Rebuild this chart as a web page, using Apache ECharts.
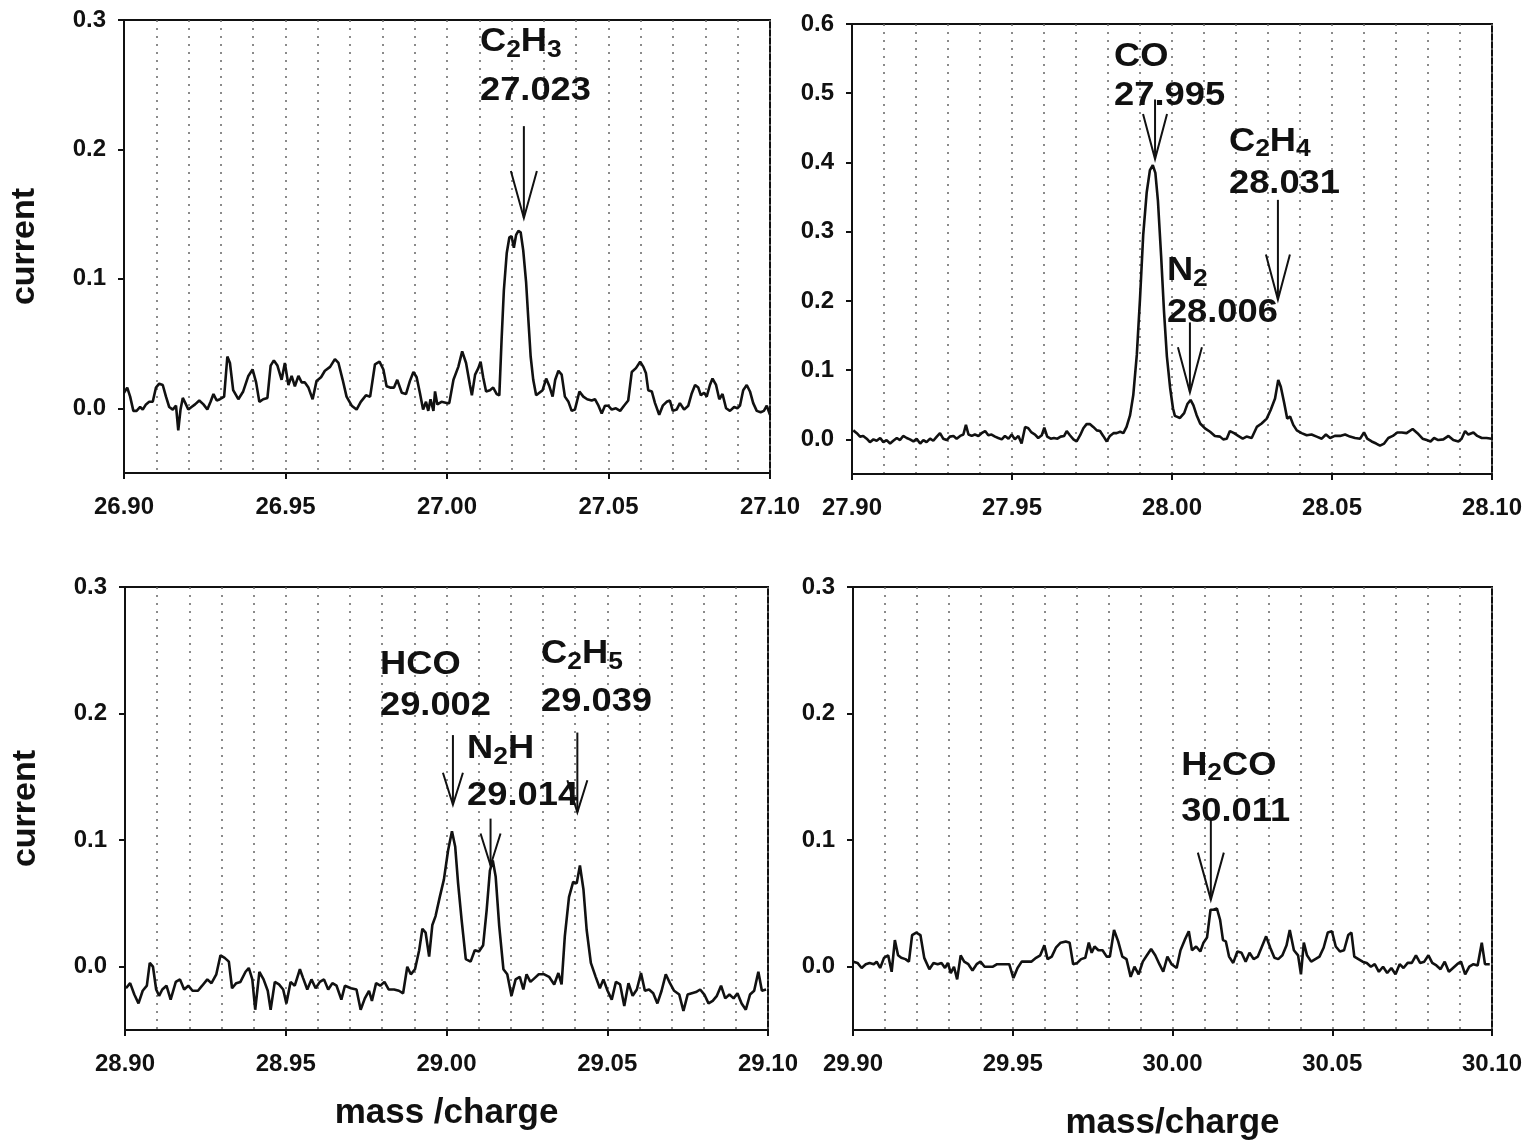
<!DOCTYPE html>
<html>
<head>
<meta charset="utf-8">
<script src="https://cdn.jsdelivr.net/npm/echarts@6/dist/echarts.min.js"></script>
<style>
html,body{margin:0;padding:0;background:#fff;}
#chart{width:1529px;height:1147px;}
</style>
</head>
<body>
<div id="chart"></div>
<script>
// ---------------- DATA ----------------
// x ranges of the four panels (mass/charge)
const rangeP1 = [26.90, 27.10];
const rangeP2 = [27.90, 28.10];
const rangeP3 = [28.90, 29.10];
const rangeP4 = [29.90, 30.10];

// y tick labels
const yTicksSmall = [0, 0.1, 0.2, 0.3];
const yTicksLarge = [0, 0.1, 0.2, 0.3, 0.4, 0.5, 0.6];

// measured traces: [mass/charge, current]
const scanP1 = [
[26.9000,0.012],[26.9010,0.016],[26.9019,0.009],[26.9029,-0.002],[26.9039,-0.002],[26.9050,0.001],[26.9058,-0.001],[26.9068,0.003],[26.9078,0.005],[26.9089,0.005],
[26.9099,0.016],[26.9109,0.019],[26.9120,0.018],[26.9130,0.009],[26.9140,0.001],[26.9151,-0.001],[26.9161,0.002],[26.9168,-0.017],[26.9175,-0.001],[26.9182,0.008],
[26.9190,0.004],[26.9199,-0.001],[26.9209,0.001],[26.9220,0.003],[26.9233,0.006],[26.9246,0.003],[26.9258,-0.001],[26.9268,0.005],[26.9277,0.011],[26.9287,0.006],
[26.9297,0.007],[26.9310,0.009],[26.9320,0.040],[26.9328,0.035],[26.9338,0.014],[26.9354,0.007],[26.9369,0.013],[26.9385,0.025],[26.9398,0.030],[26.9409,0.020],
[26.9419,0.005],[26.9431,0.007],[26.9444,0.008],[26.9454,0.033],[26.9464,0.037],[26.9475,0.033],[26.9488,0.022],[26.9498,0.035],[26.9509,0.018],[26.9519,0.025],
[26.9529,0.017],[26.9540,0.025],[26.9550,0.020],[26.9560,0.020],[26.9571,0.016],[26.9584,0.007],[26.9596,0.021],[26.9610,0.024],[26.9622,0.029],[26.9638,0.032],
[26.9653,0.038],[26.9664,0.035],[26.9677,0.022],[26.9689,0.009],[26.9705,0.002],[26.9720,-0.001],[26.9733,0.005],[26.9749,0.010],[26.9762,0.009],[26.9777,0.034],
[26.9791,0.036],[26.9803,0.030],[26.9813,0.017],[26.9824,0.016],[26.9836,0.016],[26.9846,0.022],[26.9860,0.012],[26.9873,0.011],[26.9885,0.021],[26.9896,0.028],
[26.9906,0.024],[26.9916,0.012],[26.9926,-0.001],[26.9935,0.005],[26.9942,-0.002],[26.9949,0.007],[26.9958,-0.002],[26.9963,0.013],[26.9970,0.003],[26.9983,0.005],
[26.9999,0.004],
[27.0007,0.004],[27.0020,0.022],[27.0035,0.032],[27.0047,0.044],[27.0059,0.035],[27.0071,0.018],[27.0077,0.010],[27.0087,0.026],[27.0097,0.031],[27.0104,0.036],
[27.0112,0.024],[27.0121,0.013],[27.0133,0.014],[27.0143,0.016],[27.0154,0.011],[27.0162,0.010],[27.0169,0.053],[27.0176,0.091],[27.0185,0.120],[27.0193,0.132],
[27.0200,0.133],[27.0207,0.124],[27.0214,0.134],[27.0221,0.137],[27.0228,0.136],[27.0236,0.122],[27.0245,0.097],[27.0252,0.068],[27.0259,0.040],[27.0267,0.022],
[27.0276,0.010],[27.0286,0.012],[27.0296,0.014],[27.0307,0.023],[27.0317,0.017],[27.0327,0.009],[27.0335,0.022],[27.0345,0.029],[27.0355,0.026],[27.0365,0.009],
[27.0376,0.005],[27.0386,-0.002],[27.0396,-0.001],[27.0410,0.013],[27.0422,0.009],[27.0434,0.007],[27.0448,0.006],[27.0458,0.007],[27.0469,0.002],[27.0479,-0.004],
[27.0489,0.002],[27.0499,0.002],[27.0510,-0.001],[27.0523,0.000],[27.0536,-0.002],[27.0548,0.002],[27.0561,0.006],[27.0572,0.028],[27.0585,0.031],[27.0598,0.036],
[27.0608,0.032],[27.0616,0.027],[27.0623,0.014],[27.0634,0.013],[27.0644,0.004],[27.0657,-0.005],[27.0668,0.002],[27.0680,0.005],[27.0690,0.006],[27.0699,-0.002],
[27.0711,-0.001],[27.0721,0.004],[27.0734,-0.001],[27.0747,0.002],[27.0757,0.011],[27.0768,0.018],[27.0778,0.016],[27.0786,0.010],[27.0796,0.012],[27.0804,0.009],
[27.0814,0.018],[27.0822,0.023],[27.0833,0.018],[27.0843,0.007],[27.0853,0.011],[27.0864,0.000],[27.0876,-0.002],[27.0889,0.001],[27.0899,0.000],[27.0907,0.002],
[27.0917,0.014],[27.0928,0.018],[27.0938,0.013],[27.0948,0.004],[27.0959,-0.002],[27.0971,-0.003],[27.0981,-0.002],[27.0990,0.002],[27.1000,-0.005]
];

const scanP2 = [
[27.9004,0.013],[27.9015,0.009],[27.9025,0.004],[27.9035,0.005],[27.9046,0.001],[27.9056,-0.004],[27.9067,0.000],[27.9077,-0.002],[27.9088,0.002],[27.9098,-0.004],
[27.9108,-0.001],[27.9119,-0.006],[27.9129,-0.002],[27.9140,0.002],[27.9150,-0.001],[27.9160,0.005],[27.9171,0.002],[27.9181,0.000],[27.9192,-0.003],[27.9202,0.001],
[27.9213,-0.006],[27.9223,-0.001],[27.9233,-0.004],[27.9244,0.001],[27.9254,-0.002],[27.9265,0.004],[27.9275,0.009],[27.9285,0.001],[27.9296,-0.001],[27.9306,0.004],
[27.9317,0.005],[27.9327,0.001],[27.9338,0.005],[27.9348,0.007],[27.9356,0.021],[27.9364,0.007],[27.9374,0.005],[27.9384,0.007],[27.9395,0.005],[27.9405,0.009],
[27.9416,0.012],[27.9426,0.006],[27.9436,0.007],[27.9447,0.004],[27.9457,0.002],[27.9468,0.000],[27.9478,0.005],[27.9489,0.001],[27.9499,0.007],[27.9509,0.000],
[27.9520,0.005],[27.9530,-0.006],[27.9541,0.018],[27.9551,0.016],[27.9561,0.010],[27.9572,0.007],[27.9582,0.002],[27.9593,0.006],[27.9601,0.017],[27.9610,0.004],
[27.9621,0.001],[27.9631,0.002],[27.9642,0.001],[27.9652,0.004],[27.9663,0.005],[27.9671,0.012],[27.9681,0.006],[27.9692,0.000],[27.9702,-0.003],[27.9713,0.006],
[27.9723,0.016],[27.9733,0.022],[27.9744,0.022],[27.9754,0.018],[27.9765,0.013],[27.9775,0.012],[27.9785,0.005],[27.9796,-0.003],[27.9806,0.005],[27.9817,0.009],
[27.9827,0.009],[27.9838,0.011],[27.9848,0.009],[27.9858,0.018],[27.9869,0.035],[27.9879,0.064],[27.9890,0.122],[27.9900,0.203],[27.9910,0.295],[27.9921,0.357],
[27.9931,0.389],[27.9940,0.396],[27.9948,0.385],[27.9956,0.345],[27.9966,0.265],[27.9975,0.185],[27.9984,0.120],[27.9994,0.075],[28.0003,0.045],
[28.0009,0.034],[28.0025,0.031],[28.0038,0.038],[28.0048,0.051],[28.0058,0.057],[28.0067,0.049],[28.0077,0.035],[28.0088,0.023],[28.0103,0.016],[28.0119,0.011],
[28.0134,0.005],[28.0150,0.004],[28.0160,0.000],[28.0171,0.001],[28.0181,0.012],[28.0194,0.009],[28.0207,0.005],[28.0221,0.001],[28.0233,0.004],[28.0249,0.002],
[28.0265,0.018],[28.0280,0.023],[28.0296,0.030],[28.0308,0.042],[28.0322,0.059],[28.0332,0.086],[28.0340,0.076],[28.0350,0.054],[28.0360,0.030],[28.0369,0.033],
[28.0379,0.021],[28.0390,0.013],[28.0405,0.009],[28.0421,0.006],[28.0436,0.007],[28.0452,0.004],[28.0468,0.001],[28.0481,0.007],[28.0494,0.002],[28.0509,0.005],
[28.0525,0.005],[28.0541,0.007],[28.0556,0.004],[28.0572,0.002],[28.0588,0.001],[28.0600,0.010],[28.0610,0.001],[28.0624,-0.003],[28.0638,-0.006],[28.0650,-0.009],
[28.0663,-0.006],[28.0676,0.002],[28.0690,0.005],[28.0704,0.010],[28.0718,0.010],[28.0733,0.009],[28.0752,0.015],[28.0767,0.009],[28.0783,0.001],[28.0796,-0.001],
[28.0808,-0.003],[28.0819,0.002],[28.0832,-0.001],[28.0848,0.000],[28.0864,0.005],[28.0879,-0.001],[28.0895,-0.003],[28.0905,0.001],[28.0916,0.012],[28.0926,0.007],
[28.0942,0.010],[28.0954,0.005],[28.0968,0.002],[28.0983,0.002],[28.0999,0.001]
];

const scanP3 = [
[28.9003,-0.017],[28.9016,-0.013],[28.9029,-0.022],[28.9042,-0.029],[28.9055,-0.019],[28.9068,-0.015],[28.9077,0.003],[28.9087,0.000],[28.9097,-0.018],[28.9106,-0.023],
[28.9116,-0.018],[28.9129,-0.015],[28.9142,-0.026],[28.9158,-0.012],[28.9171,-0.010],[28.9184,-0.018],[28.9197,-0.015],[28.9210,-0.019],[28.9227,-0.019],[28.9240,-0.015],
[28.9256,-0.010],[28.9269,-0.013],[28.9284,-0.006],[28.9297,0.009],[28.9310,0.007],[28.9323,0.004],[28.9333,-0.017],[28.9346,-0.013],[28.9359,-0.012],[28.9375,-0.004],
[28.9385,-0.001],[28.9396,-0.010],[28.9405,-0.034],[28.9418,-0.004],[28.9431,-0.010],[28.9444,-0.019],[28.9453,-0.034],[28.9466,-0.012],[28.9479,-0.014],[28.9492,-0.018],
[28.9502,-0.029],[28.9515,-0.012],[28.9528,-0.015],[28.9544,-0.002],[28.9554,-0.009],[28.9567,-0.018],[28.9580,-0.010],[28.9593,-0.017],[28.9606,-0.012],[28.9619,-0.010],
[28.9632,-0.018],[28.9645,-0.013],[28.9658,-0.015],[28.9673,-0.026],[28.9684,-0.015],[28.9703,-0.017],[28.9720,-0.018],[28.9733,-0.034],[28.9746,-0.025],[28.9759,-0.019],
[28.9768,-0.027],[28.9781,-0.013],[28.9794,-0.015],[28.9807,-0.012],[28.9820,-0.018],[28.9837,-0.018],[28.9852,-0.019],[28.9865,-0.021],[28.9878,0.000],[28.9889,-0.006],
[28.9902,-0.002],[28.9915,0.013],[28.9925,0.030],[28.9935,0.027],[28.9946,0.008],[28.9956,0.033],[28.9966,0.040],[28.9979,0.055],[28.9992,0.069],[29.0005,0.092],
[29.0017,0.107],[29.0027,0.095],[29.0036,0.066],[29.0047,0.037],[29.0060,0.006],[29.0075,0.004],[29.0088,0.013],[29.0101,0.012],[29.0114,0.017],[29.0125,0.045],
[29.0135,0.076],[29.0144,0.084],[29.0153,0.071],[29.0164,0.032],[29.0177,-0.002],[29.0189,-0.006],[29.0202,-0.023],[29.0215,-0.010],[29.0228,-0.008],[29.0239,-0.018],
[29.0249,-0.006],[29.0261,-0.012],[29.0274,-0.009],[29.0287,-0.006],[29.0304,-0.006],[29.0319,-0.008],[29.0335,-0.014],[29.0348,-0.005],[29.0358,-0.014],[29.0368,0.024],
[29.0381,0.055],[29.0394,0.067],[29.0405,0.066],[29.0415,0.080],[29.0426,0.061],[29.0436,0.029],[29.0449,0.003],[29.0464,-0.008],[29.0477,-0.017],[29.0488,-0.010],
[29.0501,-0.019],[29.0514,-0.026],[29.0527,-0.012],[29.0540,-0.014],[29.0553,-0.031],[29.0566,-0.013],[29.0579,-0.023],[29.0592,-0.018],[29.0605,-0.005],[29.0617,-0.019],
[29.0630,-0.018],[29.0643,-0.021],[29.0656,-0.029],[29.0669,-0.019],[29.0682,-0.006],[29.0695,-0.013],[29.0708,-0.019],[29.0724,-0.022],[29.0737,-0.035],[29.0750,-0.022],
[29.0763,-0.021],[29.0776,-0.020],[29.0789,-0.018],[29.0802,-0.022],[29.0815,-0.029],[29.0828,-0.027],[29.0841,-0.023],[29.0854,-0.015],[29.0867,-0.025],[29.0880,-0.022],
[29.0893,-0.025],[29.0905,-0.021],[29.0918,-0.029],[29.0931,-0.034],[29.0944,-0.022],[29.0957,-0.019],[29.0970,-0.004],[29.0981,-0.019],[29.0994,-0.018]
];

const scanP4 = [
[29.9001,0.004],[29.9014,0.003],[29.9027,-0.001],[29.9040,0.002],[29.9052,0.003],[29.9065,0.002],[29.9074,0.004],[29.9085,-0.001],[29.9097,0.007],[29.9110,0.009],
[29.9121,-0.004],[29.9131,0.021],[29.9141,0.009],[29.9151,0.007],[29.9164,0.006],[29.9175,0.004],[29.9185,0.025],[29.9198,0.027],[29.9211,0.025],[29.9223,0.007],
[29.9239,-0.002],[29.9252,0.003],[29.9265,0.002],[29.9277,0.003],[29.9288,-0.001],[29.9297,0.003],[29.9306,-0.005],[29.9316,0.000],[29.9326,-0.010],[29.9337,0.009],
[29.9348,0.004],[29.9361,0.002],[29.9374,-0.003],[29.9387,0.002],[29.9399,0.004],[29.9412,0.000],[29.9425,0.000],[29.9438,0.000],[29.9451,0.002],[29.9464,0.002],
[29.9477,0.002],[29.9489,0.002],[29.9502,-0.009],[29.9515,-0.001],[29.9528,0.004],[29.9541,0.004],[29.9558,0.004],[29.9573,0.007],[29.9586,0.009],[29.9599,0.017],
[29.9609,0.006],[29.9622,0.008],[29.9635,0.015],[29.9650,0.019],[29.9666,0.020],[29.9678,0.019],[29.9689,0.002],[29.9702,0.003],[29.9714,0.006],[29.9727,0.007],
[29.9738,0.019],[29.9747,0.011],[29.9756,0.016],[29.9768,0.013],[29.9781,0.013],[29.9794,0.008],[29.9804,0.008],[29.9817,0.029],[29.9830,0.020],[29.9843,0.008],
[29.9856,0.006],[29.9869,-0.008],[29.9881,0.000],[29.9894,-0.006],[29.9907,0.004],[29.9920,0.009],[29.9933,0.014],[29.9946,0.009],[29.9959,0.002],[29.9971,-0.004],
[29.9984,0.008],[29.9997,0.002],[30.0013,-0.001],[30.0025,0.013],[30.0038,0.021],[30.0051,0.028],[30.0061,0.013],[30.0074,0.016],[30.0087,0.012],[30.0097,0.019],
[30.0108,0.023],[30.0119,0.045],[30.0128,0.045],[30.0139,0.046],[30.0149,0.037],[30.0158,0.021],[30.0167,0.020],[30.0177,0.008],[30.0190,0.003],[30.0203,0.012],
[30.0216,0.011],[30.0229,0.004],[30.0241,0.011],[30.0254,0.006],[30.0267,0.008],[30.0280,0.016],[30.0293,0.024],[30.0306,0.015],[30.0319,0.007],[30.0331,0.006],
[30.0344,0.009],[30.0357,0.017],[30.0367,0.029],[30.0380,0.013],[30.0393,0.009],[30.0402,-0.006],[30.0411,0.019],[30.0421,0.009],[30.0434,0.004],[30.0447,0.006],
[30.0460,0.008],[30.0473,0.015],[30.0486,0.027],[30.0499,0.028],[30.0511,0.016],[30.0524,0.012],[30.0537,0.013],[30.0550,0.025],[30.0560,0.027],[30.0569,0.008],
[30.0582,0.006],[30.0595,0.004],[30.0608,0.003],[30.0621,0.000],[30.0633,0.002],[30.0646,-0.004],[30.0659,0.000],[30.0672,-0.005],[30.0685,-0.001],[30.0698,-0.006],
[30.0711,0.002],[30.0723,-0.001],[30.0736,0.003],[30.0749,0.003],[30.0762,0.009],[30.0775,0.003],[30.0788,0.004],[30.0801,0.009],[30.0813,0.003],[30.0826,0.001],
[30.0839,-0.002],[30.0852,0.004],[30.0865,-0.004],[30.0878,-0.001],[30.0891,0.002],[30.0903,0.004],[30.0916,-0.006],[30.0929,0.000],[30.0942,0.002],[30.0955,0.001],
[30.0968,0.019],[30.0978,0.002],[30.0993,0.002]
];

// peak annotations: [formula, mass label, arrow x, arrow top y, arrow tip y, text x, formula y, mass-label y]
const peaksP1 = [
  ['C2H3', '27.023', 27.0238, 0.218, 0.147, 27.0102, 0.283, 0.245]
];
const peaksP2 = [
  ['CO',   '27.995', 27.9947, 0.491, 0.405, 27.9819, 0.553, 0.496],
  ['N2',   '28.006', 28.0056, 0.169, 0.068, 27.9984, 0.243, 0.182],
  ['C2H4', '28.031', 28.0331, 0.346, 0.202, 28.0178, 0.430, 0.369]
];
const peaksP3 = [
  ['HCO',  '29.002', 29.0020, 0.183, 0.128, 28.9793, 0.2386, 0.206],
  ['N2H',  '29.014', 29.0137, 0.117, 0.080, 29.0064, 0.172, 0.135],
  ['C2H5', '29.039', 29.0407, 0.185, 0.122, 29.0294, 0.247, 0.209]
];
const peaksP4 = [
  ['H2CO', '30.011', 30.0120, 0.117, 0.053, 30.0027, 0.159, 0.122]
];

// ---------------- STYLE / LAYOUT ----------------
const FONT = '"Liberation Sans", Arial, Helvetica, sans-serif';
const INK = '#111';
const grids = [
  {left: 124, top: 20,  width: 646, height: 453},
  {left: 852, top: 24,  width: 640, height: 450},
  {left: 125, top: 587, width: 643, height: 443},
  {left: 853, top: 587, width: 639, height: 443}
];
const heads = [
  {len: 47, half: 13},
  {len: 45, half: 12},
  {len: 32, half: 10},
  {len: 47, half: 13}
];
const ANNO_STRETCH = 1.1;

function xAxisFor(i, range, name, nameGap) {
  return {
    type: 'value', gridIndex: i, min: range[0], max: range[1], interval: 0.05,
    name: name || '', nameLocation: 'middle', nameGap: nameGap || 0,
    nameTextStyle: {fontFamily: FONT, fontWeight: 'bold', fontSize: 35, color: INK},
    axisLine: {onZero: false, lineStyle: {color: INK, width: 2}},
    axisTick: {show: true, length: 6, lineStyle: {color: INK, width: 2}},
    axisLabel: {margin: 22, fontFamily: FONT, fontWeight: 'bold', fontSize: 24, color: INK,
      formatter: v => v.toFixed(2)},
    splitLine: {show: true, lineStyle: {color: '#666', type: [2, 6], width: 1.5}},
    minorTick: {show: false, splitNumber: 5},
    minorSplitLine: {show: true, lineStyle: {color: '#666', type: [2, 6], width: 1.5}}
  };
}
function yAxisFor(i, max, ticks, name) {
  return {
    type: 'value', gridIndex: i, min: -0.05, max: max,
    name: name || '', nameLocation: 'middle', nameGap: 82,
    nameTextStyle: {fontFamily: FONT, fontWeight: 'bold', fontSize: 34, color: INK},
    axisLine: {onZero: false, lineStyle: {color: INK, width: 2}},
    axisTick: {show: true, length: 6, customValues: ticks, lineStyle: {color: INK, width: 2}},
    axisLabel: {margin: 18, customValues: ticks, fontFamily: FONT, fontWeight: 'bold', fontSize: 24, color: INK,
      formatter: v => v.toFixed(1)},
    splitLine: {show: false}
  };
}
function lineSeries(i, data) {
  return {
    type: 'line', xAxisIndex: i, yAxisIndex: i, data: data,
    showSymbol: false, symbol: 'none', smooth: false, silent: true,
    lineStyle: {color: INK, width: 2.6}, z: 3
  };
}
function formulaRich(f) {
  return f.replace(/(\d)/g, '{s|$1}');
}
function peakSeries(i, peaks, head) {
  return {
    type: 'custom', xAxisIndex: i, yAxisIndex: i, silent: true, clip: false, z: 6,
    data: peaks.map(p => [p[2], p[4]]),
    renderItem: function (params, api) {
      const p = peaks[params.dataIndex];
      const top = api.coord([p[2], p[3]]);
      const tip = api.coord([p[2], p[4]]);
      const t1 = api.coord([p[5], p[6]]);
      const t2 = api.coord([p[5], p[7]]);
      return {
        type: 'group',
        children: [
          {type: 'line', shape: {x1: top[0], y1: top[1], x2: tip[0], y2: tip[1]},
           style: {stroke: INK, lineWidth: 2}},
          {type: 'polyline', shape: {points: [[tip[0] - head.half, tip[1] - head.len], [tip[0], tip[1]], [tip[0] + head.half, tip[1] - head.len]]},
           style: {stroke: INK, lineWidth: 2, fill: null}},
          {type: 'text', x: t1[0], y: t1[1], scaleX: ANNO_STRETCH, style: {
            text: formulaRich(p[0]), x: 0, y: 0, align: 'left', verticalAlign: 'middle',
            fontFamily: FONT, fontWeight: 'bold', fontSize: 33, lineHeight: 33, fill: INK,
            rich: {s: {fontFamily: FONT, fontWeight: 'bold', fontSize: 24, fill: INK, color: INK,
                       verticalAlign: 'top', padding: [16, 0, 0, 0], lineHeight: 40}}
          }},
          {type: 'text', x: t2[0], y: t2[1], scaleX: ANNO_STRETCH, style: {
            text: p[1], x: 0, y: 0, align: 'left', verticalAlign: 'middle',
            fontFamily: FONT, fontWeight: 'bold', fontSize: 33, fill: INK
          }}
        ]
      };
    }
  };
}

const chart = echarts.init(document.getElementById('chart'), null, {renderer: 'canvas'});
chart.setOption({
  backgroundColor: '#ffffff',
  animation: false,
  grid: grids.map(g => Object.assign({show: true, borderColor: INK, borderWidth: 2, backgroundColor: 'transparent'}, g)),
  xAxis: [
    xAxisFor(0, rangeP1),
    xAxisFor(1, rangeP2),
    xAxisFor(2, rangeP3, 'mass /charge', 66),
    xAxisFor(3, rangeP4, 'mass/charge', 76)
  ],
  yAxis: [
    yAxisFor(0, 0.3, yTicksSmall, 'current'),
    yAxisFor(1, 0.6, yTicksLarge),
    yAxisFor(2, 0.3, yTicksSmall, 'current'),
    yAxisFor(3, 0.3, yTicksSmall)
  ],
  series: [
    lineSeries(0, scanP1), lineSeries(1, scanP2), lineSeries(2, scanP3), lineSeries(3, scanP4),
    peakSeries(0, peaksP1, heads[0]), peakSeries(1, peaksP2, heads[1]),
    peakSeries(2, peaksP3, heads[2]), peakSeries(3, peaksP4, heads[3])
  ]
});
</script>
</body>
</html>
